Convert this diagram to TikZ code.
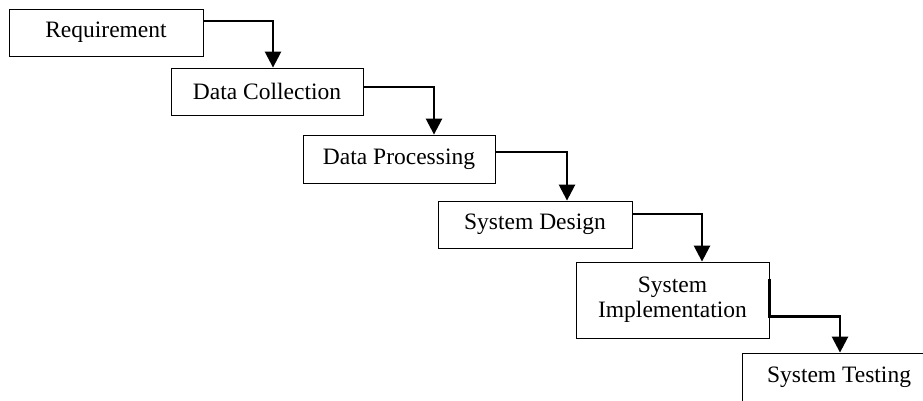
\documentclass[tikz,border=0pt]{standalone}
\usepackage{fontspec}
\setmainfont{Liberation Serif}
\usetikzlibrary{arrows.meta}

\tikzset{
  stage/.style={draw=black, line width=0.8pt, inner sep=0pt, fill=white,
    minimum width=194pt, minimum height=47pt, align=center,
    font=\fontsize{23.5}{25}\selectfont},
  flow/.style={draw=black, line width=2.5pt,
    -{Triangle[width=16pt,length=16pt]}},
}

\begin{document}
\begin{tikzpicture}[x=1pt, y=-1pt]
  \useasboundingbox (0,0) rectangle (923,401);

  % waterfall stages
  \node[stage] (req)  at (106,32.5)   {Requirement};
  \node[stage, minimum width=192pt] (dc)   at (267,91.5)   {Data Collection};
  \node[stage, minimum width=192pt, minimum height=48pt] (dp) at (399,159) {Data Processing};
  \node[stage] (sd)   at (535,224.5)  {System Design};
  \node[stage, minimum width=193pt, minimum height=76pt] (impl) at (672.5,300) {System\\Implementation};
  \node[stage, minimum height=49pt] (test) at (839,377.5) {System Testing};

  % step connectors
  \draw[flow] ([yshift=11.5pt]req.east) -| ([xshift=6pt]dc.north);
  \draw[flow] ([yshift=4.5pt]dc.east)   -| ([xshift=35pt]dp.north);
  \draw[flow] ([yshift=7pt]dp.east)     -| ([xshift=32pt]sd.north);
  \draw[flow] ([yshift=10.5pt]sd.east)  -| ([xshift=29.5pt]impl.north);
  \draw[flow] ([yshift=-17pt]impl.north east) -- ([yshift=-55pt]impl.north east)
              -| ([xshift=1pt]test.north);
\end{tikzpicture}
\end{document}
